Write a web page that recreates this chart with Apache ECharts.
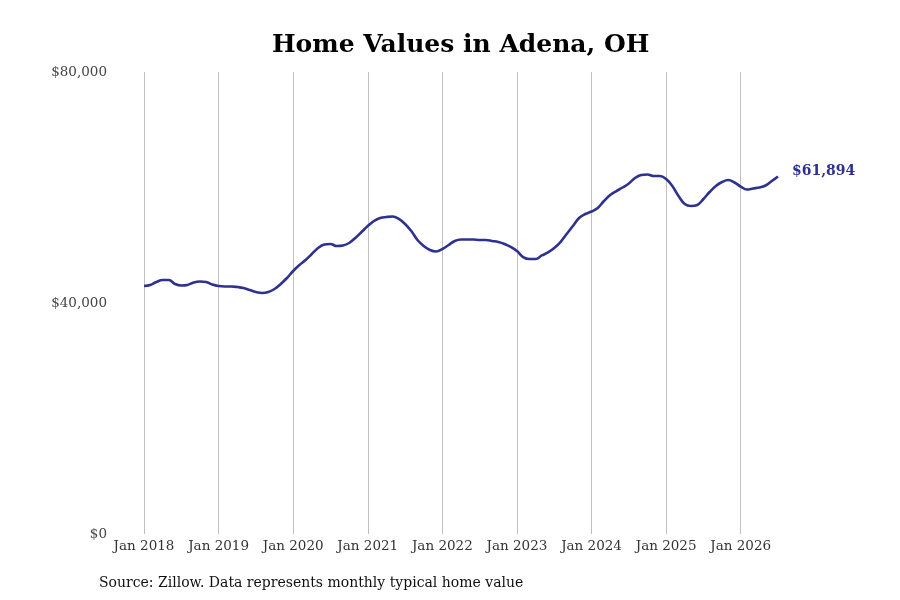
<!DOCTYPE html>
<html>
<head>
<meta charset="utf-8">
<script src="https://cdn.jsdelivr.net/npm/echarts@6/dist/echarts.min.js"></script>
<style>
  html, body { margin: 0; padding: 0; background: #ffffff; }
  #chart { width: 900px; height: 600px; }
</style>
</head>
<body>
<div id="chart"></div>
<script>
const years = [2018, 2019, 2020, 2021, 2022, 2023, 2024, 2025, 2026];
const monthNames = ['Jan', 'Feb', 'Mar', 'Apr', 'May', 'Jun', 'Jul', 'Aug', 'Sep', 'Oct', 'Nov', 'Dec'];

// monthly typical home value, Jan 2018 - Jul 2026
const values2018 = [42940, 43120, 43640, 43980, 43980, 43290, 43030, 43120, 43550, 43720, 43640, 43200];
const values2019 = [42940, 42860, 42860, 42770, 42600, 42250, 41900, 41730, 41900, 42420, 43290, 44330];
const values2020 = [45540, 46580, 47450, 48480, 49520, 50130, 50220, 49870, 49960, 50390, 51260, 52290];
const values2021 = [53330, 54200, 54720, 54890, 54980, 54550, 53680, 52470, 50910, 49870, 49180, 48920];
const values2022 = [49350, 50040, 50740, 51000, 51000, 51000, 50910, 50910, 50740, 50560, 50220, 49700];
const values2023 = [49000, 47960, 47620, 47620, 48230, 48750, 49520, 50560, 51950, 53330, 54720, 55410];
const values2024 = [55840, 56450, 57660, 58700, 59390, 60000, 60690, 61650, 62160, 62250, 61990, 61990];
const values2025 = [61470, 60260, 58530, 57140, 56800, 56970, 58010, 59220, 60260, 60950, 61300, 60870];
const values2026 = [60170, 59650, 59830, 60000, 60350, 61120, 61894];

const yTicks = [0, 40000, 80000];

const values = [].concat(values2018, values2019, values2020, values2021, values2022,
  values2023, values2024, values2025, values2026);

const months = [];
years.forEach(y => monthNames.forEach(m => months.push(m + ' ' + y)));
months.length = values.length;

const serif = 'DejaVu Serif';
const lineColor = '#2e3190';

const chart = echarts.init(document.getElementById('chart'));

const option = {
  animation: false,
  title: [
    {
      text: 'Home Values in Adena, OH',
      left: 272,
      top: 33,
      padding: 0,
      textStyle: {
        fontFamily: serif,
        fontSize: 25,
        fontWeight: 'bold',
        color: '#000000',
      },
    },
    {
      text: 'Source: Zillow. Data represents monthly typical home value',
      left: 99,
      top: 576,
      padding: 0,
      textStyle: {
        fontFamily: serif,
        fontSize: 14,
        fontWeight: 'normal',
        color: '#111111',
      },
    },
  ],
  grid: {
    left: 144,
    right: 122,
    top: 72,
    bottom: 66,
  },
  xAxis: {
    type: 'category',
    boundaryGap: false,
    data: months,
    axisLine: { show: false },
    axisTick: { show: false },
    axisLabel: {
      interval: 11,
      margin: 5,
      fontFamily: serif,
      fontSize: 13.5,
      color: '#333333',
    },
    splitLine: {
      show: true,
      interval: 11,
      lineStyle: { color: '#c0c0c0', width: 1 },
    },
  },
  yAxis: {
    type: 'value',
    min: yTicks[0],
    max: yTicks[yTicks.length - 1],
    interval: yTicks[1] - yTicks[0],
    axisLine: { show: false },
    axisTick: { show: false },
    splitLine: { show: false },
    axisLabel: {
      margin: 37,
      padding: [6, 0, 0, 0],
      fontFamily: serif,
      fontSize: 13.5,
      color: '#444444',
      formatter: v => '$' + v.toLocaleString('en-US'),
    },
  },
  series: [
    {
      name: 'Home value',
      type: 'line',
      data: values,
      smooth: 0.4,
      showSymbol: false,
      lineStyle: { color: lineColor, width: 2.6 },
      itemStyle: { color: lineColor },
      endLabel: {
        show: true,
        distance: 14,
        offset: [0, -5],
        fontFamily: serif,
        fontSize: 14,
        fontWeight: 'bold',
        color: lineColor,
        formatter: p => '$' + p.value.toLocaleString('en-US'),
      },
    },
  ],
};

chart.setOption(option);
</script>
</body>
</html>
